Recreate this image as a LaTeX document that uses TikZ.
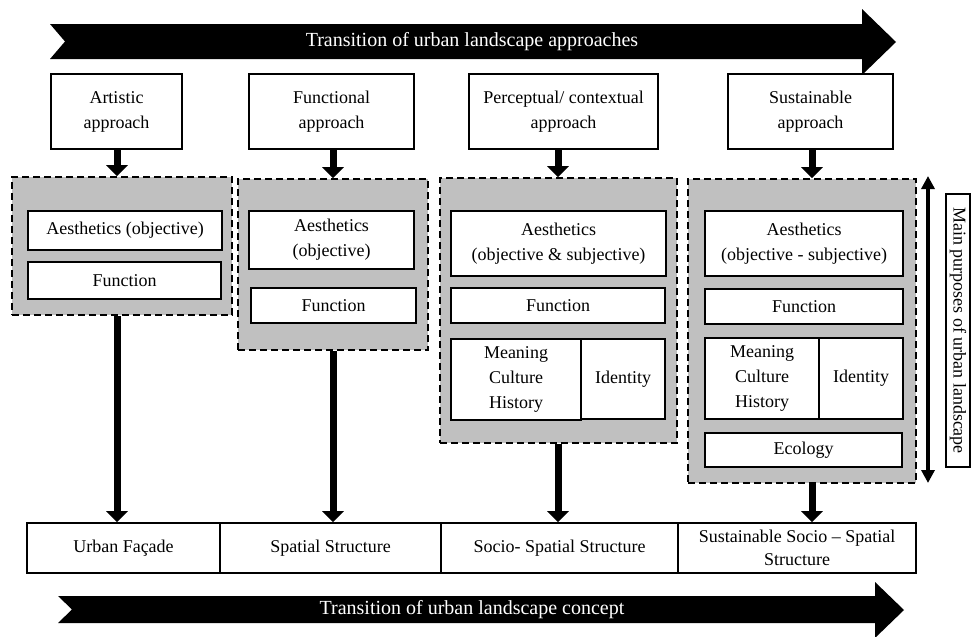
\documentclass[tikz,border=0pt]{standalone}
\usepackage{fontspec}
\setmainfont{Liberation Serif}
\usetikzlibrary{arrows.meta}
\definecolor{grp}{RGB}{192,192,192}
\tikzset{
  box/.style={draw, line width=1.6pt, fill=white, align=center, inner sep=0pt,
    font=\fontsize{18}{25}\selectfont},
  grpbox/.style={draw, line width=1.6pt, dash pattern=on 7pt off 4pt, fill=grp, inner sep=0pt},
  fat/.style={line width=7pt, -{Triangle[width=21pt,length=11pt]}},
  dbl/.style={line width=3.5pt, {Triangle[width=13pt,length=13pt]}-{Triangle[width=13pt,length=13pt]}},
  bigtxt/.style={text=white, font=\fontsize{20}{24}\selectfont, inner sep=0pt},
  lbl/.style={draw, line width=1.2pt, fill=white, inner sep=0pt, rotate=-90,
    font=\fontsize{18}{22}\selectfont}
}
\begin{document}
\begin{tikzpicture}[x=1pt,y=-1pt]
\useasboundingbox (0,0) rectangle (972,637);
% top big arrow
\fill (50,24) -- (862,24) -- (862,9) -- (896,42) -- (862,75) -- (862,59) -- (50,59) -- (65,41.5) -- cycle;
\node[bigtxt] (ttop) at (472,41.5) {Transition of urban landscape approaches};
% bottom big arrow
\fill (58,596) -- (875,596) -- (875,582) -- (904,610) -- (875,638) -- (875,623) -- (58,623) -- (72,609.5) -- cycle;
\node[bigtxt] (tbot) at (472,609.5) {Transition of urban landscape concept};

% approach boxes
\node[box, minimum width=131pt, minimum height=75pt] (a1) at (116.5,111.5) {Artistic\\approach};
\node[box, minimum width=165pt, minimum height=75pt] (a2) at (331.5,111.5) {Functional\\approach};
\node[box, minimum width=189pt, minimum height=75pt] (a3) at (563.5,111.5) {Perceptual/ contextual\\approach};
\node[box, minimum width=165pt, minimum height=75pt] (a4) at (810.5,111.5) {Sustainable\\approach};

% groups
\node[grpbox, minimum width=220pt, minimum height=138pt] (g1) at (122,246) {};
\node[grpbox, minimum width=190pt, minimum height=171pt] (g2) at (333,264.5) {};
\node[grpbox, minimum width=237pt, minimum height=265pt] (g3) at (558.5,310.5) {};
\node[grpbox, minimum width=228pt, minimum height=304pt] (g4) at (802,331) {};

% inner boxes
\node[box, minimum width=194pt, minimum height=39pt] (e1) at (125,230.5) {Aesthetics (objective)};
\node[box, minimum width=193pt, minimum height=37pt] (f1) at (124.5,280.5) {Function};
\node[box, minimum width=165pt, minimum height=58pt] (e2) at (331.5,240) {Aesthetics\\(objective)};
\node[box, minimum width=165pt, minimum height=35pt] (f2) at (333.5,305.5) {Function};
\node[box, minimum width=215pt, minimum height=65pt] (e3) at (558.5,243.5) {Aesthetics\\(objective \& subjective)};
\node[box, minimum width=214pt, minimum height=35pt] (f3) at (558,305.5) {Function};
\node[box, minimum width=130pt, minimum height=81pt] (m3) at (516,379.5) {Meaning\\Culture\\History};
\node[box, minimum width=84pt, minimum height=80pt] (i3) at (623,379) {Identity};
\node[box, minimum width=198pt, minimum height=65pt] (e4) at (804,243.5) {Aesthetics\\(objective - subjective)};
\node[box, minimum width=198pt, minimum height=35pt] (f4) at (804,306.5) {Function};
\node[box, minimum width=114pt, minimum height=81pt] (m4) at (762,378.5) {Meaning\\Culture\\History};
\node[box, minimum width=84pt, minimum height=81pt] (i4) at (861,378.5) {Identity};
\node[box, minimum width=197pt, minimum height=34pt] (ec4) at (803.5,450) {Ecology};

% concept bar
\node[box, minimum width=193pt, minimum height=50pt] (c1) at (123.5,548) {Urban Façade};
\node[box, minimum width=221pt, minimum height=50pt] (c2) at (330.5,548) {Spatial Structure};
\node[box, minimum width=237pt, minimum height=50pt] (c3) at (559.5,548) {Socio- Spatial Structure};
\node[box, minimum width=238pt, minimum height=50pt, font=\fontsize{18}{23}\selectfont] (c4) at (797,548) {Sustainable Socio – Spatial\\Structure};

% label box
\node[lbl, minimum width=273pt, minimum height=24pt] (lb) at (958,330.5) {Main purposes of urban landscape};

% arrow positions
\coordinate (x1) at (117,0);
\coordinate (x2) at (333,0);
\coordinate (x3) at (558,0);
\coordinate (x4) at (812,0);

\draw[fat] (a1.south -| x1) -- (g1.north -| x1);
\draw[fat] (a2.south -| x2) -- (g2.north -| x2);
\draw[fat] (a3.south -| x3) -- (g3.north -| x3);
\draw[fat] (a4.south -| x4) -- (g4.north -| x4);

\draw[fat] (g1.south -| x1) -- (c1.north -| x1);
\draw[fat] (g2.south -| x2) -- (c2.north -| x2);
\draw[fat] (g3.south -| x3) -- (c3.north -| x3);
\draw[fat] (g4.south -| x4) -- (c4.north -| x4);

% double arrow
\coordinate (dt) at (928,176);
\coordinate (db) at (928,483);
\draw[dbl] (dt) -- (db);
\end{tikzpicture}
\end{document}
